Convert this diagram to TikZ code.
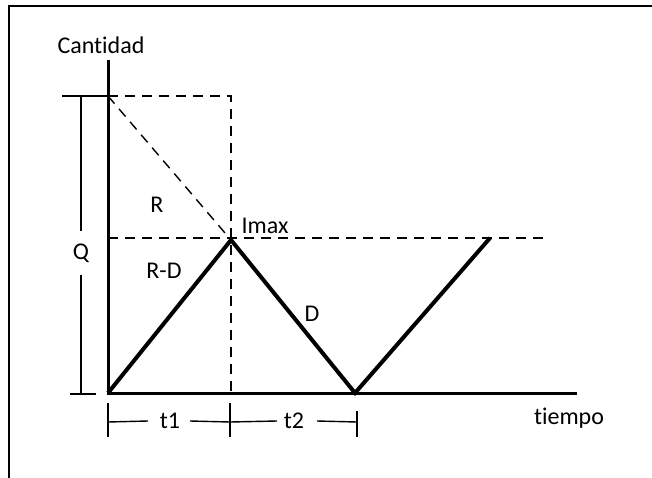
\documentclass[tikz,border=0pt]{standalone}
\usepackage{fontspec}
\setmainfont[RawFeature=-liga]{Carlito}
\begin{document}
\begin{tikzpicture}[x=1pt,y=-1pt,
  lbl/.style={inner sep=0pt,font=\fontsize{24}{28}\selectfont},
  axisline/.style={line width=3pt},
  curve/.style={line width=4pt,line join=miter},
  guide/.style={line width=1.4pt,dash pattern=on 10pt off 7pt},
  dimline/.style={line width=1.4pt},
  frameline/.style={line width=1.6pt}]
\useasboundingbox (0,0) rectangle (652,478);
% frame
\coordinate (f1) at (9,478);
\coordinate (f2) at (9,6);
\coordinate (f3) at (652,6);
\draw[frameline] (f1) -- (f2) -- (f3);
% key points
\coordinate (O) at (108,393);
\coordinate (Ytop) at (108,60);
\coordinate (Xend) at (577,393);
\coordinate (Qtop) at (108,96);
\coordinate (Ctop) at (231,96);
\coordinate (Cbot) at (231,393);
\coordinate (P) at (231,240);
\coordinate (Hl) at (108,238);
\coordinate (Hr) at (545,238);
\coordinate (V) at (355,393);
\coordinate (E) at (490,238);
% guides
\draw[guide] (Qtop) -- (Ctop) -- (Cbot);
\draw[guide] (Qtop) -- (P);
\draw[guide] (Hl) -- (Hr);
% axes
\draw[axisline] (Ytop) -- (O) -- (Xend);
% inventory curve
\draw[curve] (O) -- (P) -- (V) -- (E);
% Q bracket
\node[lbl] (Q) at (81,253) {Q};
\coordinate (qt1) at (62,96);
\coordinate (qt2) at (108,96);
\coordinate (qb1) at (70,394);
\coordinate (qb2) at (96,394);
\coordinate (qa) at (81,96);
\coordinate (qb) at (81,394);
\draw[dimline] (qt1) -- (qt2);
\draw[dimline] (qb1) -- (qb2);
\draw[dimline] (qa) -- ([yshift=12pt]Q.north);
\draw[dimline] ([yshift=-12pt]Q.south) -- (qb);
% labels
\node[lbl] (cant) at (101,45) {Cantidad};
\node[lbl] (tiempo) at (569,418) {tiempo};
\node[lbl] (R) at (157,205) {R};
\node[lbl] (Imax) at (265,226) {Imax};
\node[lbl] (RD) at (164,271) {R-D};
\node[lbl] (D) at (312,314) {D};
% time dimension
\node[lbl] (t1) at (170,421) {t1};
\node[lbl] (t2) at (294,421) {t2};
\coordinate (a1) at (108,403);
\coordinate (a2) at (108,437);
\coordinate (b1) at (230,403);
\coordinate (b2) at (230,437);
\coordinate (c1) at (357,411);
\coordinate (c2) at (357,437);
\coordinate (d0) at (108,422);
\coordinate (d1) at (230,422);
\coordinate (d2) at (357,422);
\draw[dimline] (a1) -- (a2);
\draw[dimline] (b1) -- (b2);
\draw[dimline] (c1) -- (c2);
\draw[dimline] (d0) -- ([xshift=-22pt]t1.center);
\draw[dimline] ([xshift=20pt]t1.center) -- (d1) -- ([xshift=-17pt]t2.center);
\draw[dimline] ([xshift=23pt]t2.center) -- (d2);
\end{tikzpicture}
\end{document}
